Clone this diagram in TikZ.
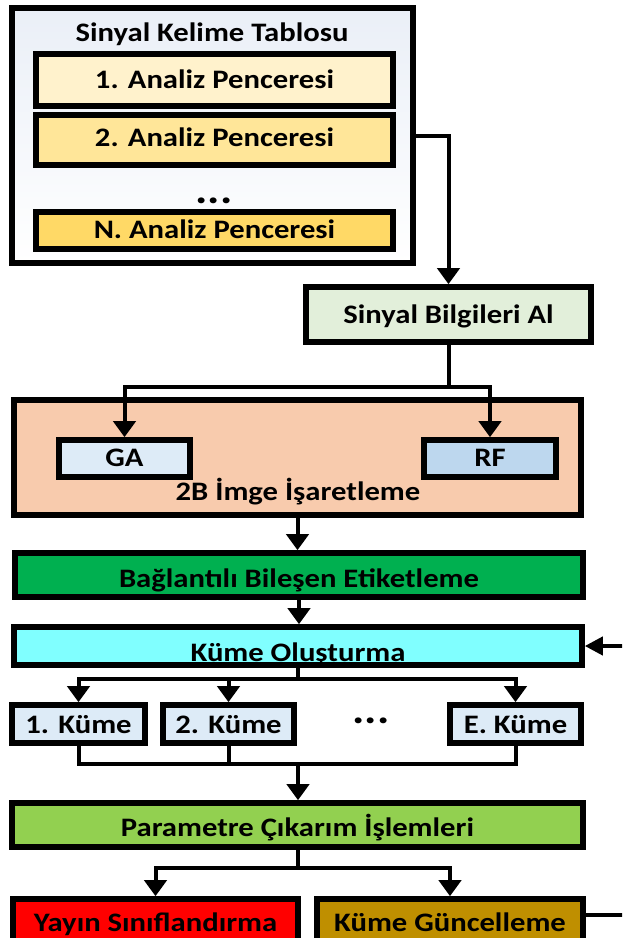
\documentclass[tikz,border=0pt]{standalone}
\usepackage{fontspec}
\setmainfont{Carlito}[FakeStretch=1.15]
\usetikzlibrary{arrows.meta}
\definecolor{cTblTop}{HTML}{EAEFF7}
\definecolor{cWa}{HTML}{FFF2CC}
\definecolor{cWb}{HTML}{FFE699}
\definecolor{cWn}{HTML}{FFD966}
\definecolor{cSba}{HTML}{E2EFDA}
\definecolor{cImg}{HTML}{F8CBAD}
\definecolor{cGa}{HTML}{DDEBF7}
\definecolor{cRf}{HTML}{BDD7EE}
\definecolor{cBbe}{HTML}{00B050}
\definecolor{cKo}{HTML}{80FFFF}
\definecolor{cKume}{HTML}{DDEBF7}
\definecolor{cPar}{HTML}{92D050}
\definecolor{cYay}{HTML}{FF0000}
\definecolor{cKg}{HTML}{BF8F00}
\begin{document}
\begin{tikzpicture}[x=0.75pt,y=-0.75pt,
  txt/.style={font=\bfseries\fontsize{20}{24}\selectfont, text height=13.5pt, text depth=0pt, inner sep=0pt},
  box/.style={txt, draw=black, line width=4.2pt},
  geom/.style n args={4}{at={(#1,#2)}, minimum width=#3*0.75pt, minimum height=#4*0.75pt},
  dots/.style={txt, font=\bfseries\fontsize{30}{32}\selectfont},
  conn/.style={line width=3pt},
  arr/.style={conn, -{Triangle[length=12pt,width=16.5pt]}},
  harr/.style={conn, -{Triangle[length=13.5pt,width=13.5pt]}}]
\clip (0,0) rectangle (622,938);
% table
\node[box, top color=cTblTop, bottom color=white, geom={212.5}{135.5}{401}{255}] (tbl) {};
\node[txt] (title) at (212,33) {Sinyal Kelime Tablosu};
\node[box, fill=cWa, geom={214.5}{80}{357}{52}] (wa) {1. Analiz Penceresi};
\node[box, fill=cWb, text height=9.75pt, geom={214.5}{140}{357}{50}] (wb) {2. Analiz Penceresi};
\node[dots] (dotsa) at (214,195) {...};
\node[box, fill=cWn, text height=12pt, geom={214.5}{230.5}{357}{37}] (wn) {N. Analiz Penceresi};
% signal info
\node[box, fill=cSba, geom={448.5}{314.5}{285}{55}] (sba) {Sinyal Bilgileri Al};
% 2B
\node[box, fill=cImg, geom={297.5}{457.5}{567}{115}] (img) {};
\node[txt] (imgt) at (298,491) {2B İmge İşaretleme};
\node[box, fill=cGa, text height=12pt, geom={124.5}{458.5}{131}{37}] (ga) {GA};
\node[box, fill=cRf, text height=12pt, geom={490}{458.5}{132}{37}] (rf) {RF};
% labelling
\node[box, fill=cBbe, text height=18.75pt, geom={299}{575}{568}{44}] (bbe) {Bağlantılı Bileşen Etiketleme};
\node[box, fill=cKo, text height=23.25pt, geom={298}{646}{568}{38}] (ko) {Küme Oluşturma};
% clusters
\node[box, fill=cKume, geom={78.5}{724}{133}{38}] (ka) {1. Küme};
\node[box, fill=cKume, geom={228.5}{724}{131}{38}] (kb) {2. Küme};
\node[dots] (dotsb) at (371,714) {...};
\node[box, fill=cKume, geom={515.5}{724}{131}{38}] (ke) {E. Küme};
% parameters
\node[box, fill=cPar, text height=17.25pt, geom={297.5}{825}{571}{44}] (par) {Parametre Çıkarım İşlemleri};
\node[box, fill=cYay, geom={155.5}{922}{285}{46}] (yay) {Yayın Sınıflandırma};
\node[box, fill=cKg, geom={450}{922}{266}{46}] (kg) {Küme Güncelleme};
% connectors
\coordinate (c1) at (413,136);
\draw[arr] (c1) -| (sba.north);
\coordinate (j1) at (448.5,387);
\draw[conn] (sba.south) -- (j1);
\draw[arr] (j1) -| (ga.north);
\draw[arr] (j1) -| (rf.north);
\draw[arr] (img.south) -- (img.south |- bbe.north);
\draw[arr] (bbe.south) -- (bbe.south |- ko.north);
\coordinate (j2) at (298,679);
\draw[conn] (ko.south -| j2) -- (j2);
\draw[arr] (j2) -| (ka.north);
\draw[arr] (j2) -| (kb.north);
\draw[arr] (j2) -| (ke.north);
\coordinate (j3) at (298,764);
\draw[conn] (ka.south) |- (j3) -| (ke.south);
\draw[conn] (kb.south) -- (kb.south |- j3);
\draw[arr] (j3) -- (j3 |- par.north);
\coordinate (j4) at (298,868);
\draw[conn] (par.south -| j4) -- (j4);
\draw[arr] (j4) -| (yay.north);
\draw[arr] (j4) -| (kg.north);
\draw[harr] ([yshift=5.25pt]kg.east) -- ++(60,0) |- (ko.east);
\end{tikzpicture}
\end{document}
